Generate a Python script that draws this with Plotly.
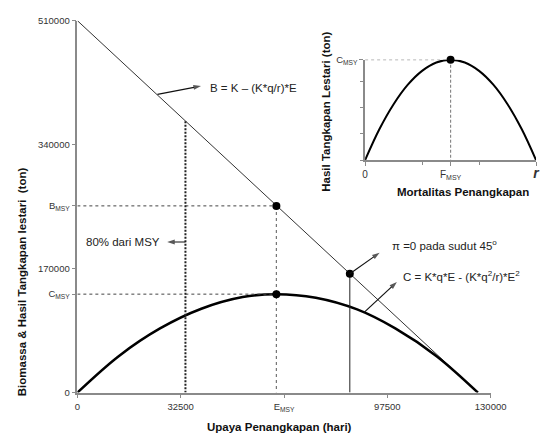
import plotly.graph_objects as go

W, H = 553, 441

# ---------------- data ----------------
# main chart: effort E (hari) vs biomass / yield (ton)
B_E = [0, 126000]
B_val = [510000, 0]

C_E = [0, 13000, 26000, 39000, 52000, 62600, 75000, 88000, 100000, 113000, 126000]
C_val = [0, 50000, 88000, 115000, 131000, 135000, 130000, 114000, 88000, 50000, 0]

E_MSY = 62600
B_MSY = 256000
C_MSY = 135000
E_80 = 34000          # dotted line (80% dari MSY)
B_80 = 372000
E_pi = 85700          # pi = 0 point
B_pi = 163000

x_tickvals = [0, 32500, 65000, 97500, 130000]
x_ticktext = ["0", "32500", "E<sub>MSY</sub>", "97500", "130000"]
y_tickvals = [0, C_MSY, 170000, B_MSY, 340000, 510000]
y_ticktext = ["0", "C<sub>MSY</sub>", "170000", "B<sub>MSY</sub>", "340000", "510000"]

# inset: fishing mortality F vs sustainable yield
F_vals = [0, 0.25, 0.5, 0.75, 1.0, 1.25, 1.5, 1.75, 2.0, 2.25, 2.5, 2.75, 3.0]
Y_vals = [0, 1.18, 2.14, 2.89, 3.42, 3.74, 3.85, 3.74, 3.42, 2.89, 2.14, 1.18, 0]
F_MSY = 1.5
C_MSY_in = 3.85
in_x_labvals = [0, 1.5, 3]
in_x_labtext = ["0", "F<sub>MSY</sub>",
                "<span style='font-size:14px'><b><i>r</i></b></span>"]
in_x_minor = [1, 2]
in_y_labvals = [C_MSY_in]
in_y_labtext = ["C<sub>MSY</sub>"]
in_y_minor = [0, 1, 2, 3]

# annotation arrows: (tail E, tail value) -> (head E, head value)
arrows = [
    ((25200, 409000), (38900, 420400)),     # to B formula
    ((E_80, 206500), (28250, 206500)),      # to "80% dari MSY"
    ((E_pi, B_pi), (95070, 191800)),        # to pi text
    ((90200, 110000), (100500, 151700)),    # to C formula
]

FONT = "Liberation Sans, Arial, sans-serif"
AX = "#8a8a8a"
TXT = "#222222"

def px(x):
    return x / W

def py(y):
    return 1 - y / H

fig = go.Figure()

# ---- main chart ----
fig.add_trace(go.Scatter(x=B_E, y=B_val, mode="lines",
                         line=dict(color="#333333", width=1), xaxis="x", yaxis="y"))
fig.add_trace(go.Scatter(x=C_E, y=C_val, mode="lines", line_shape="spline",
                         line=dict(color="black", width=2.5), xaxis="x", yaxis="y"))
fig.add_trace(go.Scatter(x=[0, E_MSY], y=[B_MSY, B_MSY], mode="lines",
                         line=dict(color="#444444", width=1, dash="3px,3px"), xaxis="x", yaxis="y"))
fig.add_trace(go.Scatter(x=[0, E_MSY], y=[C_MSY, C_MSY], mode="lines",
                         line=dict(color="#444444", width=1, dash="3px,3px"), xaxis="x", yaxis="y"))
fig.add_trace(go.Scatter(x=[E_MSY, E_MSY], y=[B_MSY, 0], mode="lines",
                         line=dict(color="#777777", width=1.2, dash="3px,3px"), xaxis="x", yaxis="y"))
fig.add_trace(go.Scatter(x=[E_80, E_80], y=[B_80, 0], mode="lines",
                         line=dict(color="#222222", width=2, dash="2px,1.5px"), xaxis="x", yaxis="y"))
fig.add_trace(go.Scatter(x=[E_pi, E_pi], y=[B_pi, 0], mode="lines",
                         line=dict(color="#222222", width=1), xaxis="x", yaxis="y"))
fig.add_trace(go.Scatter(x=[E_MSY, E_MSY, E_pi], y=[B_MSY, C_MSY, B_pi], mode="markers",
                         marker=dict(color="black", size=8), xaxis="x", yaxis="y"))

# arrows as line + oriented arrow marker
for (t, h) in arrows:
    fig.add_trace(go.Scatter(x=[t[0], h[0]], y=[t[1], h[1]], mode="lines+markers",
                             line=dict(color="#111111", width=1.2),
                             marker=dict(symbol="arrow", size=[0, 8], color="#111111",
                                         angleref="previous", line=dict(width=0)),
                             xaxis="x", yaxis="y", cliponaxis=False))

# ---- inset ----
fig.add_trace(go.Scatter(x=F_vals, y=Y_vals, mode="lines", line_shape="spline",
                         line=dict(color="black", width=2), xaxis="x2", yaxis="y2"))
fig.add_trace(go.Scatter(x=[0, F_MSY], y=[C_MSY_in, C_MSY_in], mode="lines",
                         line=dict(color="#333333", width=1, dash="3px,3px"), xaxis="x2", yaxis="y2"))
fig.add_trace(go.Scatter(x=[F_MSY, F_MSY], y=[C_MSY_in, 0], mode="lines",
                         line=dict(color="#888888", width=1.2, dash="3px,2px"), xaxis="x2", yaxis="y2"))
fig.add_trace(go.Scatter(x=[F_MSY], y=[C_MSY_in], mode="markers", cliponaxis=False,
                         marker=dict(color="black", size=8), xaxis="x2", yaxis="y2"))
# dummy trace carrying the unlabeled-tick overlay axes
fig.add_trace(go.Scatter(x=[None], y=[None], mode="lines", xaxis="x3", yaxis="y3",
                         hoverinfo="skip"))

axis_common = dict(showgrid=False, zeroline=False, showline=True, linecolor=AX, linewidth=1.5,
                   ticks="outside", ticklen=4, tickcolor=AX, tickwidth=1.2,
                   tickfont=dict(family=FONT, size=9.5, color="#333333"), fixedrange=True)
minor_axis = dict(showgrid=False, zeroline=False, showline=False, showticklabels=False,
                  ticks="outside", ticklen=4, tickcolor=AX, tickwidth=1.2, fixedrange=True)

fig.update_layout(
    width=W, height=H, margin=dict(l=0, r=0, t=0, b=0),
    paper_bgcolor="white", plot_bgcolor="white", showlegend=False,
    xaxis=dict(domain=[px(77), px(505)], range=[0, 130000], anchor="y",
               tickmode="array", tickvals=x_tickvals, ticktext=x_ticktext, **axis_common),
    yaxis=dict(domain=[py(396.5), py(15)], range=[0, 510000], anchor="x",
               tickmode="array", tickvals=y_tickvals, ticktext=y_ticktext, **axis_common),
    xaxis2=dict(domain=[px(375), px(552)], range=[0, 3], anchor="y2",
                tickmode="array", tickvals=in_x_labvals, ticktext=in_x_labtext, **axis_common),
    yaxis2=dict(domain=[py(158), py(55)], range=[0, C_MSY_in], anchor="x2",
                tickmode="array", tickvals=in_y_labvals, ticktext=in_y_labtext, **axis_common),
    xaxis3=dict(overlaying="x2", anchor="y2", range=[0, 3],
                tickmode="array", tickvals=in_x_minor, **minor_axis),
    yaxis3=dict(overlaying="y2", anchor="x2", range=[0, C_MSY_in],
                tickmode="array", tickvals=in_y_minor, **minor_axis),
)

ann = []

def label(x, y, text, xanchor="left"):
    ann.append(dict(x=x, y=y, xref="x", yref="y", text=text, showarrow=False,
                    xanchor=xanchor, yanchor="middle",
                    font=dict(family=FONT, size=11.5, color=TXT)))

label(41000, 417000, "B = K – (K*q/r)*E")
label(26700, 206500, "80% dari MSY", xanchor="right")
label(98400, 202500, "π =0 pada sudut 45<sup>o</sup>")
label(101750, 159700, "C = K*q*E - (K*q<sup>2</sup>/r)*E<sup>2</sup>")

def title(xp, yp, text, angle=0, size=11.5):
    ann.append(dict(x=px(xp), y=py(yp), xref="paper", yref="paper", text="<b>" + text + "</b>",
                    showarrow=False, textangle=angle, xanchor="center", yanchor="middle",
                    font=dict(family=FONT, size=size, color="#111111")))

title(286.5, 432, "Upaya Penangkapan (hari)")
title(20, 283, "Biomassa &amp; Hasil Tangkapan lestari  (ton)", angle=-90)
title(476, 191, "Mortalitas Penangkapan")
title(335, 108, "Hasil Tangkapan Lestari (ton)", angle=-90)

fig.update_layout(annotations=ann)
fig.layout.xaxis2.tickfont = dict(family=FONT, size=10, color="#333333")
fig.write_html("out.html")
